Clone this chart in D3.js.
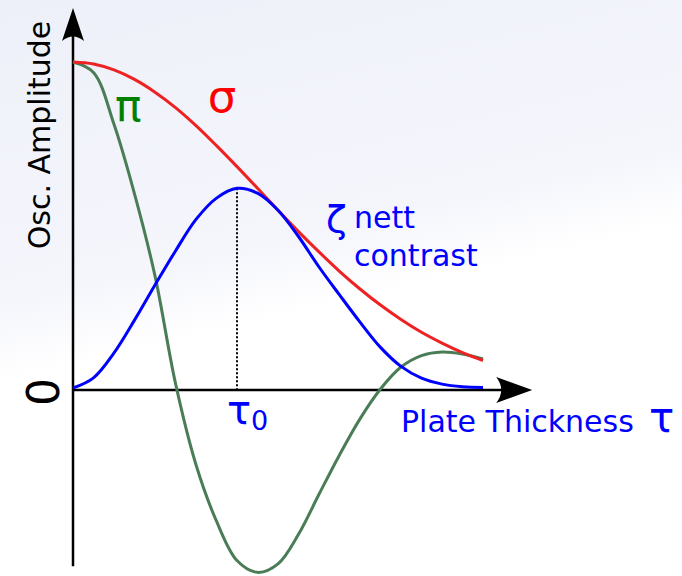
<!DOCTYPE html>
<html>
<head>
<meta charset="utf-8">
<script src="https://cdn.jsdelivr.net/npm/d3@7"></script>
<style>
  html, body { margin: 0; padding: 0; background: #ffffff; }
  svg { display: block; font-family: "DejaVu Sans", Verdana, sans-serif; }
</style>
</head>
<body>
<svg id="chart" width="682" height="576"></svg>
<script>
// Plate thickness samples (arbitrary units)
const tau = [0, 0.5, 1, 1.5, 2, 2.5, 3, 3.5, 4, 4.5, 5, 5.5, 6, 6.5, 7, 7.5, 8, 8.5, 9, 9.5, 10];

// σ amplitude
const sigma = [1.000, 0.994, 0.976, 0.947, 0.908, 0.861, 0.806, 0.745, 0.681, 0.615, 0.548, 0.483,
               0.421, 0.362, 0.308, 0.259, 0.215, 0.176, 0.143, 0.114, 0.090];

// π amplitude
const pi = [1.000, 0.968, 0.810, 0.598, 0.348, 0.020, -0.228, -0.400, -0.520, -0.556, -0.530, -0.440,
            -0.318, -0.198, -0.088, 0.003, 0.070, 0.105, 0.116, 0.110, 0.095];

// ζ nett contrast
const zeta = [0.006, 0.037, 0.113, 0.213, 0.320, 0.424, 0.520, 0.585, 0.615, 0.600, 0.548, 0.468,
              0.375, 0.290, 0.207, 0.130, 0.072, 0.036, 0.018, 0.010, 0.008];

// Axis extents (data units)
const tauAxisMax = 11.2;
const ampAxisMax = 1.165;
const ampAxisMin = -0.537;

const svg = d3.select("#chart");
const W = 682, H = 576;

// soft background shading
const defs = svg.append("defs");
const bg = defs.append("linearGradient")
  .attr("id", "bg").attr("gradientUnits", "userSpaceOnUse")
  .attr("x1", 0).attr("y1", 0).attr("x2", 84).attr("y2", 362);
bg.append("stop").attr("offset", "0%").attr("stop-color", "#eef0f9");
bg.append("stop").attr("offset", "80%").attr("stop-color", "#f5f6fc");
bg.append("stop").attr("offset", "100%").attr("stop-color", "#ffffff");
svg.append("rect").attr("width", W).attr("height", H).attr("fill", "#ffffff");
svg.append("rect").attr("width", W).attr("height", H).attr("fill", "url(#bg)");

const x = d3.scaleLinear().domain([0, 10]).range([73, 483]);
const y = d3.scaleLinear().domain([0, 1]).range([390, 62]);

// axes with arrow heads
const x0 = x(0), y0 = y(0);
const xEnd = x(tauAxisMax), yTop = y(ampAxisMax), yBot = y(ampAxisMin);

svg.append("line").attr("x1", x0).attr("x2", xEnd - 20).attr("y1", y0).attr("y2", y0)
  .attr("stroke", "#000").attr("stroke-width", 2.5);
svg.append("line").attr("x1", x0).attr("x2", x0).attr("y1", yBot).attr("y2", yTop + 20)
  .attr("stroke", "#000").attr("stroke-width", 2.5);

// x arrow head
svg.append("path")
  .attr("d", `M${xEnd},${y0} L${xEnd - 36},${y0 - 13} Q${xEnd - 26},${y0} ${xEnd - 36},${y0 + 13} Z`)
  .attr("fill", "#000");
// y arrow head
svg.append("path")
  .attr("d", `M${x0},${yTop} L${x0 - 11},${yTop + 33} Q${x0},${yTop + 24} ${x0 + 11},${yTop + 33} Z`)
  .attr("fill", "#000");

// dotted marker at the contrast maximum
const iMax = d3.maxIndex(zeta);
svg.append("line")
  .attr("x1", x(tau[iMax])).attr("x2", x(tau[iMax]))
  .attr("y1", y(zeta[iMax])).attr("y2", y0)
  .attr("stroke", "#000").attr("stroke-width", 2).attr("stroke-dasharray", "2,2");

const line = d3.line()
  .x((d, i) => x(tau[i]))
  .y(d => y(d))
  .curve(d3.curveCatmullRom.alpha(0.5));

svg.append("path").datum(pi).attr("d", line)
  .attr("fill", "none").attr("stroke", "#4a7d55").attr("stroke-width", 3);
svg.append("path").datum(sigma).attr("d", line)
  .attr("fill", "none").attr("stroke", "#ee2222").attr("stroke-width", 3);
svg.append("path").datum(zeta).attr("d", line)
  .attr("fill", "none").attr("stroke", "#0000ff").attr("stroke-width", 3);

// labels
svg.append("text")
  .attr("transform", "translate(50,135) rotate(-90)")
  .attr("text-anchor", "middle").attr("font-size", 30).attr("fill", "#000")
  .text("Osc. Amplitude");

svg.append("text")
  .attr("transform", `translate(43,${y0 + 2}) rotate(-90)`)
  .attr("text-anchor", "middle").attr("dominant-baseline", "central")
  .attr("font-size", 44).attr("fill", "#000")
  .text("0");

svg.append("text").attr("x", 115).attr("y", 121)
  .attr("font-size", 44).attr("fill", "#008000").text("π");
svg.append("text").attr("x", 222).attr("y", 112).attr("text-anchor", "middle")
  .attr("font-size", 45).attr("fill", "#ff0000").text("σ");

svg.append("text").attr("x", 326).attr("y", 232)
  .attr("font-size", 38).attr("fill", "#0000ff").text("ζ");
svg.append("text").attr("x", 354).attr("y", 228)
  .attr("font-size", 30).attr("fill", "#0000ff").text("nett");
svg.append("text").attr("x", 354).attr("y", 266)
  .attr("font-size", 30).attr("fill", "#0000ff").text("contrast");

const t0 = svg.append("text").attr("x", x(tau[iMax]) - 10).attr("y", 424)
  .attr("fill", "#0000ff");
t0.append("tspan").attr("font-size", 40).text("τ");
t0.append("tspan").attr("font-size", 27).attr("dy", 6).text("0");

svg.append("text").attr("x", 401).attr("y", 432)
  .attr("font-size", 30).attr("fill", "#0000ff").text("Plate Thickness");
svg.append("text").attr("x", 649).attr("y", 432)
  .attr("font-size", 42).attr("fill", "#0000ff").text("τ");
</script>
</body>
</html>
